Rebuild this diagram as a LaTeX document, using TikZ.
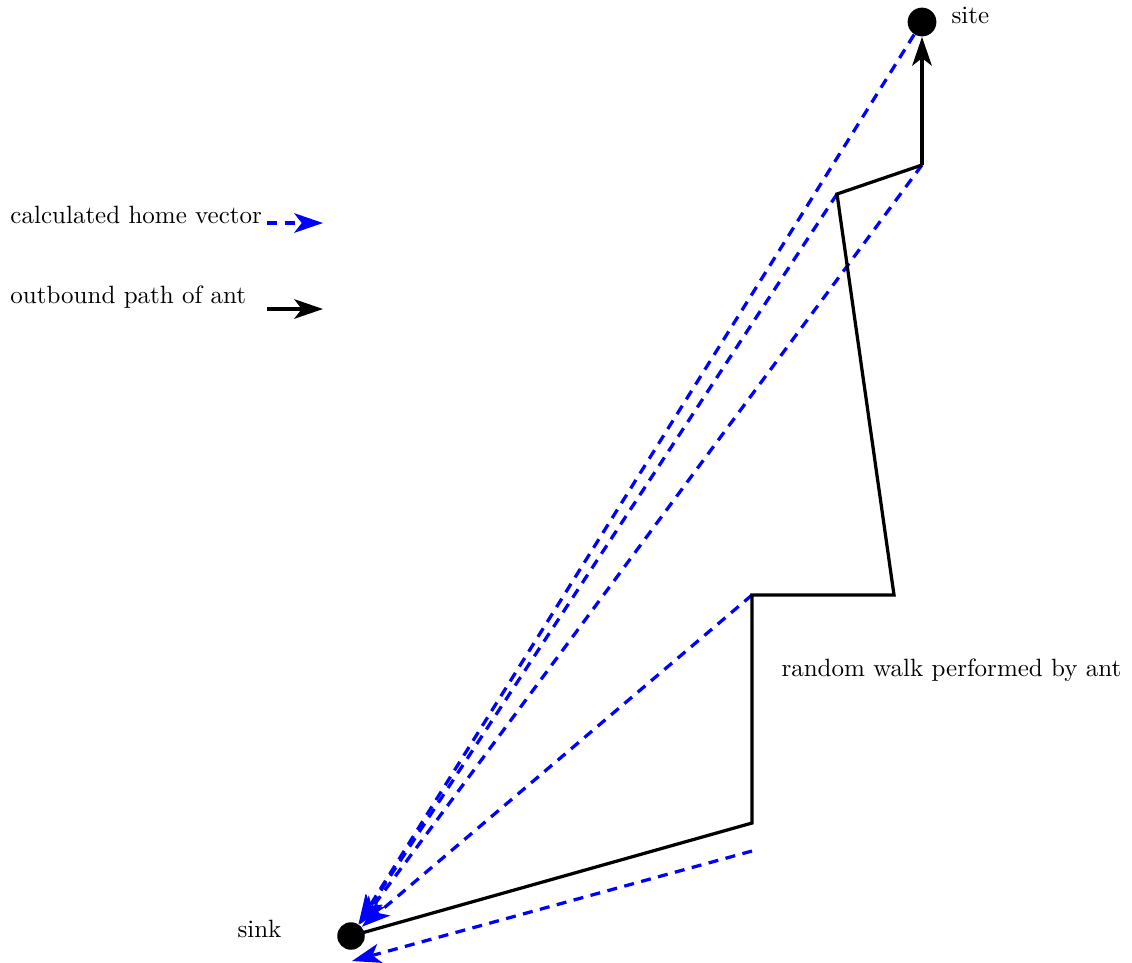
\documentclass[tikz,border=0pt]{standalone}
\usetikzlibrary{arrows.meta}
\begin{document}
\begin{tikzpicture}[x=0.40pt,y=-0.40pt,
  dot/.style={circle,fill=black,inner sep=0pt},
  lbl/.style={anchor=base west,inner sep=0pt,font=\normalsize},
  walk/.style={line width=1.3pt,black,line join=miter},
  homevec/.style={line width=1.3pt,blue,dash pattern=on 4pt off 3pt,-{Stealth[length=11.5pt,width=7.8pt,inset=3pt]}},
  outarrow/.style={line width=1.3pt,black,-{Stealth[length=11.5pt,width=7.8pt,inset=3pt]}}]
\useasboundingbox (0,0) rectangle (1132,962);
% points
\node[dot,minimum size=11pt] (sink) at (351,936) {};
\node[dot,minimum size=11.5pt] (site) at (922,22) {};
\coordinate (p1) at (752,823);
\coordinate (p2) at (752,595);
\coordinate (p3) at (894,595);
\coordinate (p4) at (837,194);
\coordinate (p5) at (922,165);
\coordinate (q1) at (752,851);
\coordinate (q0) at (352,961);
% labels
\node[lbl] (sitelbl) at (951,23) {site};
\node[lbl] (sinklbl) at (237,937) {sink};
\node[lbl] (walklbl) at (781,676) {random walk performed by ant};
\node[lbl] (lg1) at (10,223) {calculated home vector};
\node[lbl] (lg2) at (10,303) {outbound path of ant};
\coordinate (lg1a) at (267,223);
\coordinate (lg1b) at (323,223);
\coordinate (lg2a) at (267,309);
\coordinate (lg2b) at (323,309);
% home vectors
\draw[homevec] (site) -- (sink);
\draw[homevec] (p4) -- (sink);
\draw[homevec] (p5) -- (sink);
\draw[homevec] (p2) -- (sink);
\draw[homevec] (q1) -- (q0);
% outbound path
\draw[walk] (sink.center) -- (p1) -- (p2) -- (p3) -- (p4) -- (p5);
\draw[outarrow] (p5) -- (site);
% legend
\draw[homevec] (lg1a) -- (lg1b);
\draw[outarrow] (lg2a) -- (lg2b);
\end{tikzpicture}
\end{document}
